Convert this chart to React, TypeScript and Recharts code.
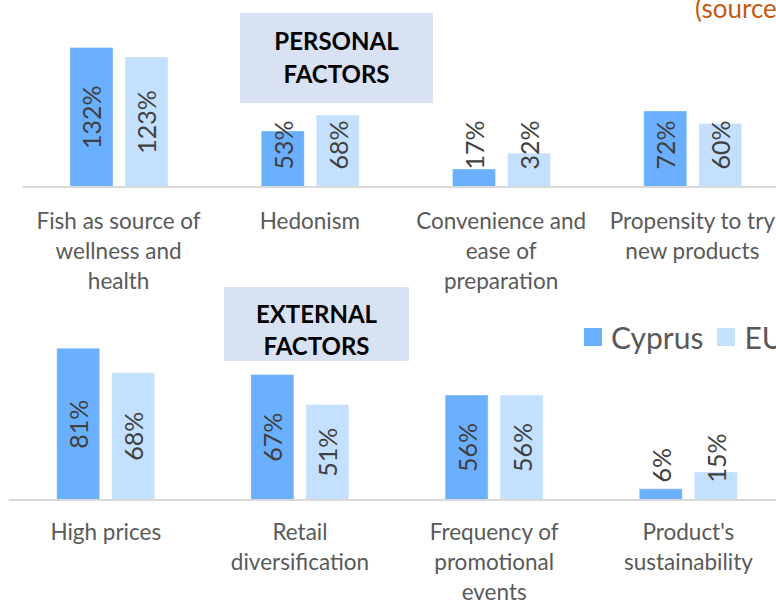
import React from 'react';
import { BarChart, Bar, XAxis, YAxis, LabelList, Legend } from 'recharts';

const personalCategories = [
  'Fish as source of wellness and health',
  'Hedonism',
  'Convenience and ease of preparation',
  'Propensity to try new products',
];
const personalCyprus = [132, 53, 17, 72];
const personalEU = [123, 68, 32, 60];

const externalCategories = [
  'High prices',
  'Retail diversification',
  'Frequency of promotional events',
  "Product's sustainability",
];
const externalCyprus = [81, 67, 56, 6];
const externalEU = [68, 51, 56, 15];

const seriesNames = ['Cyprus', 'EU'];
const titles = ['PERSONAL', 'FACTORS', 'EXTERNAL', 'FACTORS'];
const sourceText = '(source';

const CYPRUS_COLOR = '#6BB0FF';
const EU_COLOR = '#C4E0FF';
const FONT = 'Lato, "Open Sans", sans-serif';

const personalData = personalCategories.map((c, i) => ({
  category: c,
  Cyprus: personalCyprus[i],
  EU: personalEU[i],
}));
const externalData = externalCategories.map((c, i) => ({
  category: c,
  Cyprus: externalCyprus[i],
  EU: externalEU[i],
}));

function wrapWords(text: string, maxChars: number): string[] {
  const words = text.split(' ');
  const lines: string[] = [];
  let cur = '';
  words.forEach((w) => {
    const next = cur ? cur + ' ' + w : w;
    if (next.length > maxChars && cur) {
      lines.push(cur);
      cur = w;
    } else {
      cur = next;
    }
  });
  if (cur) lines.push(cur);
  return lines;
}

const makeTick = (firstOffset: number) => (props: any) => {
  const { x, y, payload } = props;
  const lines = wrapWords(String(payload.value), 17);
  return (
    <text
      x={x}
      y={y + firstOffset}
      textAnchor="middle"
      fill="#595959"
      fontSize={22.5}
      fontFamily={FONT}
    >
      {lines.map((l, i) => (
        <tspan key={i} x={x} dy={i === 0 ? 0 : 30}>
          {l}
        </tspan>
      ))}
    </text>
  );
};

const renderBarLabel = (props: any) => {
  const { x, y, width, height, value } = props;
  const cx = Number(x) + Number(width) / 2;
  const base = Number(y) + Number(height);
  const text = `${value}%`;
  const len = String(value).length * 14.5 + 21;
  let cy = Number(y) + Number(height) / 2;
  const limit = base - 17;
  if (cy + len / 2 > limit) cy = limit - len / 2;
  return (
    <text
      x={cx}
      y={cy}
      transform={`rotate(-90 ${cx} ${cy})`}
      textAnchor="middle"
      dominantBaseline="central"
      fill="#404040"
      fontSize={25}
      fontFamily={FONT}
    >
      {text}
    </text>
  );
};

const renderLegend = (props: any) => {
  const payload = props.payload || [];
  return (
    <div
      style={{
        display: 'flex',
        alignItems: 'center',
        fontFamily: FONT,
        fontSize: 30,
        color: '#595959',
        whiteSpace: 'nowrap',
        lineHeight: '36px',
      }}
    >
      {payload.map((e: any, i: number) => (
        <span key={i} style={{ display: 'flex', alignItems: 'center', marginRight: 14 }}>
          <span
            style={{
              width: 18,
              height: 18,
              background: e.color,
              display: 'inline-block',
              marginRight: 9,
            }}
          />
          {e.value}
        </span>
      ))}
    </div>
  );
};

export default function App() {
  return (
    <div
      style={{
        position: 'fixed',
        left: 0,
        top: 0,
        width: 776,
        height: 601,
        overflow: 'hidden',
        background: '#ffffff',
      }}
    >
      <div style={{ position: 'absolute', left: 0, top: 0 }}>
        <BarChart
          width={788}
          height={300}
          data={personalData}
          margin={{ top: 28.45, right: 0, bottom: 0, left: 23 }}
          barGap={12}
        >
          <XAxis
            dataKey="category"
            height={113}
            interval={0}
            tickLine={false}
            axisLine={{ stroke: '#D9D9D9', strokeWidth: 2 }}
            tick={makeTick(34)}
          />
          <YAxis hide domain={[0, 150]} allowDataOverflow />
          <Bar dataKey={seriesNames[0]} name={seriesNames[0]} fill={CYPRUS_COLOR} stroke="#ffffff" strokeOpacity={0.35} strokeWidth={1} barSize={43} isAnimationActive={false}>
            <LabelList dataKey={seriesNames[0]} content={renderBarLabel} />
          </Bar>
          <Bar dataKey={seriesNames[1]} name={seriesNames[1]} fill={EU_COLOR} stroke="#ffffff" strokeOpacity={0.35} strokeWidth={1} barSize={43} isAnimationActive={false}>
            <LabelList dataKey={seriesNames[1]} content={renderBarLabel} />
          </Bar>
        </BarChart>
      </div>
      <div style={{ position: 'absolute', left: 0, top: 300 }}>
        <BarChart
          width={785.5}
          height={301}
          data={externalData}
          margin={{ top: 12.7, right: 0, bottom: 0, left: 8.7 }}
          barGap={12}
        >
          <XAxis
            dataKey="category"
            height={101}
            interval={0}
            tickLine={false}
            axisLine={{ stroke: '#D9D9D9', strokeWidth: 2 }}
            tick={makeTick(32)}
          />
          <YAxis hide domain={[0, 100]} allowDataOverflow />
          <Legend
            layout="horizontal"
            verticalAlign="middle"
            align="center"
            content={renderLegend}
            wrapperStyle={{ left: 584, top: 18.5, width: 'auto', height: 'auto' }}
          />
          <Bar dataKey={seriesNames[0]} name={seriesNames[0]} fill={CYPRUS_COLOR} stroke="#ffffff" strokeOpacity={0.35} strokeWidth={1} barSize={43} isAnimationActive={false}>
            <LabelList dataKey={seriesNames[0]} content={renderBarLabel} />
          </Bar>
          <Bar dataKey={seriesNames[1]} name={seriesNames[1]} fill={EU_COLOR} stroke="#ffffff" strokeOpacity={0.35} strokeWidth={1} barSize={43} isAnimationActive={false}>
            <LabelList dataKey={seriesNames[1]} content={renderBarLabel} />
          </Bar>
        </BarChart>
      </div>
      <svg
        width={776}
        height={601}
        style={{ position: 'absolute', left: 0, top: 0, pointerEvents: 'none' }}
      >
        <rect x={240} y={13} width={193} height={90} fill="#D9E2F3" />
        <text x={336.5} y={50} textAnchor="middle" fontFamily={FONT} fontWeight={700} fontSize={24} fill="#000">
          {titles[0]}
        </text>
        <text x={336.5} y={82.7} textAnchor="middle" fontFamily={FONT} fontWeight={700} fontSize={24} fill="#000">
          {titles[1]}
        </text>
        <rect x={224} y={287} width={185} height={74} fill="#D9E2F3" />
        <text x={316.5} y={323.3} textAnchor="middle" fontFamily={FONT} fontWeight={700} fontSize={24} fill="#000">
          {titles[2]}
        </text>
        <text x={316.5} y={355} textAnchor="middle" fontFamily={FONT} fontWeight={700} fontSize={24} fill="#000">
          {titles[3]}
        </text>
        <text x={695} y={18} fontFamily={FONT} fontSize={26} fill="#C65911">
          {sourceText}
        </text>
      </svg>
    </div>
  );
}
